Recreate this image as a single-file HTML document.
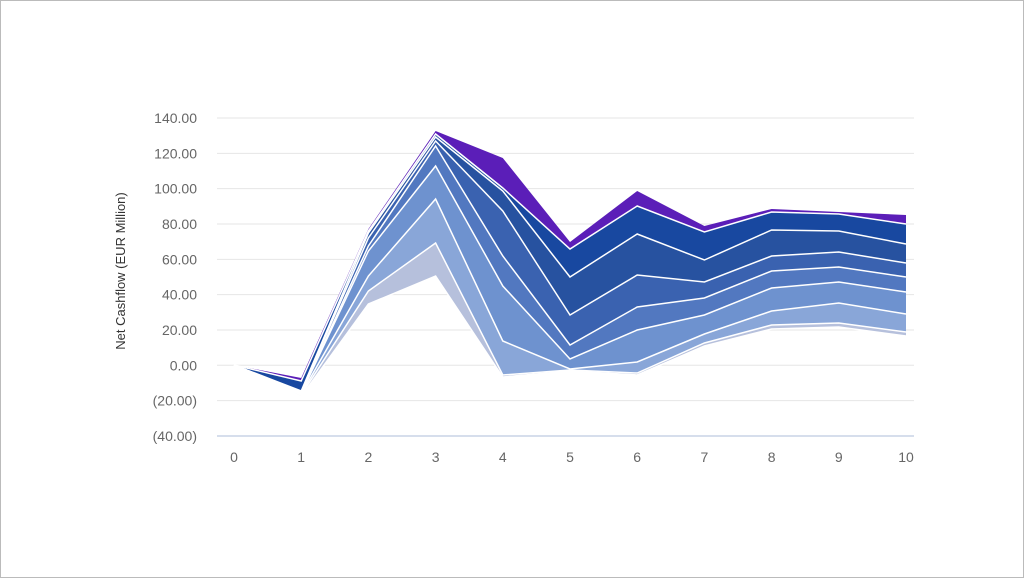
<!DOCTYPE html>
<html><head><meta charset="utf-8"><style>
html,body{margin:0;padding:0;background:#fff}
#w{width:1022px;height:576px;border:1px solid #bbb;position:relative;overflow:hidden;background:#fff}
svg{position:absolute;left:0;top:0}
text{font-family:"Liberation Sans",sans-serif;fill:#666}
</style></head><body><div id="w">
<svg id="s" width="1024" height="578" xmlns="http://www.w3.org/2000/svg"></svg>
</div>
<script>
var s=document.getElementById('s'),h='';
var ticks=['140.00','120.00','100.00','80.00','60.00','40.00','20.00','0.00','(20.00)','(40.00)'];
for(var i=0;i<10;i++){var y=117+i*35.33;
h+='<line x1="216" x2="913" y1="'+y+'" y2="'+y+'" stroke="'+(i==9?'#c8d4e6':'#e6e6e6')+'" stroke-width="'+(i==9?1.5:1)+'"/>';
h+='<text x="196" y="'+(y+5)+'" font-size="14" text-anchor="end">'+ticks[i]+'</text>';}
for(var i=0;i<=10;i++){h+='<text x="'+(233+i*67.2)+'" y="461" font-size="14" text-anchor="middle">'+i+'</text>';}
h+='<text transform="translate(124,270) rotate(-90)" font-size="13" style="fill:#333" text-anchor="middle">Net Cashflow (EUR Million)</text>';
var L=[
[364,377,228,130,157,241,190,225,208,211,214],
[364,380,230,133,187,248,205,231,211,213,223],
[364,390,232,136,190,276,233,259,229,230,243],
[364,391,237,140,210,314,274,281,255,251,262],
[364,392,245,145,255,344,306,297,270,266,276],
[364,392.5,250,165,285,358,329,314,287,281,291],
[364,393,275,198,340,368,361,333,310,302,313],
[364,394,290,242,374,369,372,342,324,322,331],
[364,395.5,303,275,376,370,374,345,328,326,335]];
var C=['#5b1eb8','#1848a0','#2752a0','#3a62b0','#5278c0','#6e92cf','#89a6d8','#b6c0dc','#dde2f0'];
function pts(r,rev){var a=[];for(var i=0;i<11;i++)a.push((233+i*67.2)+','+r[i]);if(rev)a.reverse();return a;}
for(var k=0;k<8;k++){
var p=pts(L[k]).concat(pts(L[8],true)).join(' ');
h+='<polygon points="'+p+'" fill="'+C[k]+'"/>';
if(k>0)h+='<polyline points="'+pts(L[k]).join(' ')+'" fill="none" stroke="#fff" stroke-width="1.5"/>';}
h+='<polyline points="'+pts(L[8]).join(' ')+'" fill="none" stroke="#fff" stroke-width="1.5"/>';
s.innerHTML=h;
</script></body></html>
